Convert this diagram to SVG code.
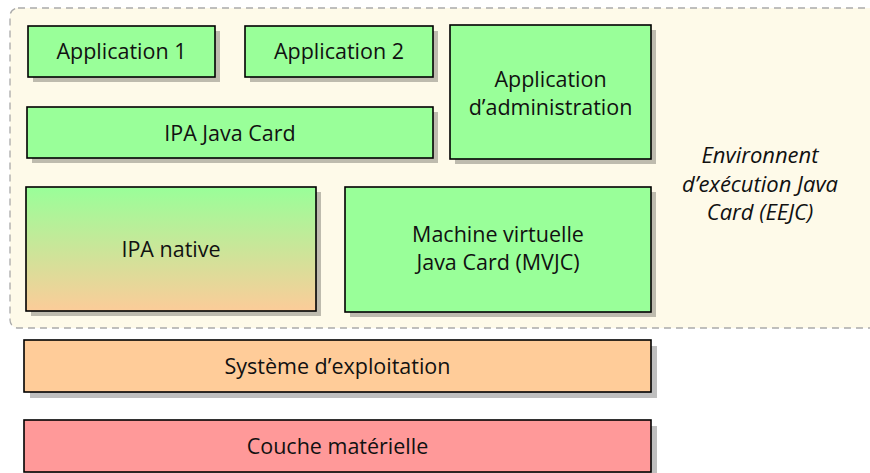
<svg xmlns="http://www.w3.org/2000/svg" width="870" height="473" viewBox="0 0 870 473">
<defs>
<linearGradient id="gNative" x1="0" y1="0" x2="0" y2="1">
<stop offset="0" stop-color="#99ff99"/>
<stop offset="1" stop-color="#fccc99"/>
</linearGradient>
<style>
.box{stroke:#000;stroke-width:1.6}
.sh{fill:#000;fill-opacity:0.25}
.green{fill:#99ff99}
.t{font-family:"Open Sans","Noto Sans",sans-serif;font-size:21.5px;fill:#111;text-anchor:middle}
.it{font-style:italic;font-size:22px}
</style>
</defs>
<rect id="eejc-bg" x="10" y="8" width="868" height="320" rx="8" fill="#fefae9" stroke="#aaaaaa" stroke-width="1.3" stroke-dasharray="7,5"/>
<g id="eejc-label">
<text class="t it" x="760" y="163">Environnent</text>
<text class="t it" x="760" y="192">d’exécution Java</text>
<text class="t it" x="760" y="220">Card (EEJC)</text>
</g>
<g id="app1">
<rect class="sh" x="33" y="31" width="187" height="51"/>
<rect class="box green" x="28" y="26" width="187" height="51"/>
<text class="t" x="121.5" y="59">Application 1</text>
</g>
<g id="app2">
<rect class="sh" x="250" y="31" width="188" height="51"/>
<rect class="box green" x="245" y="26" width="188" height="51"/>
<text class="t" x="339" y="59">Application 2</text>
</g>
<g id="admin">
<rect class="sh" x="455" y="30" width="201" height="134"/>
<rect class="box green" x="450" y="25" width="201" height="134"/>
<text class="t" x="550.5" y="87">Application</text>
<text class="t" x="550.5" y="115">d’administration</text>
</g>
<g id="ipa-jc">
<rect class="sh" x="32" y="112" width="406" height="51"/>
<rect class="box green" x="27" y="107" width="406" height="51"/>
<text class="t" x="230" y="141">IPA Java Card</text>
</g>
<g id="ipa-native">
<rect class="sh" x="31" y="192" width="290" height="124"/>
<rect class="box" fill="url(#gNative)" x="26" y="187" width="290" height="124"/>
<text class="t" x="171" y="257">IPA native</text>
</g>
<g id="mvjc">
<rect class="sh" x="350" y="192" width="306" height="125"/>
<rect class="box green" x="345" y="187" width="306" height="125"/>
<text class="t" x="498" y="242">Machine virtuelle</text>
<text class="t" x="498" y="270">Java Card (MVJC)</text>
</g>
<g id="os">
<rect class="sh" x="30" y="346" width="627" height="52"/>
<rect class="box" fill="#ffcc99" x="24" y="340" width="627" height="52"/>
<text class="t" x="337.5" y="374">Système d’exploitation</text>
</g>
<g id="hw">
<rect class="sh" x="30" y="426" width="627" height="52"/>
<rect class="box" fill="#ff9999" x="24" y="420" width="627" height="52"/>
<text class="t" x="337.5" y="454">Couche matérielle</text>
</g>
<g id="connectors"></g>
</svg>
